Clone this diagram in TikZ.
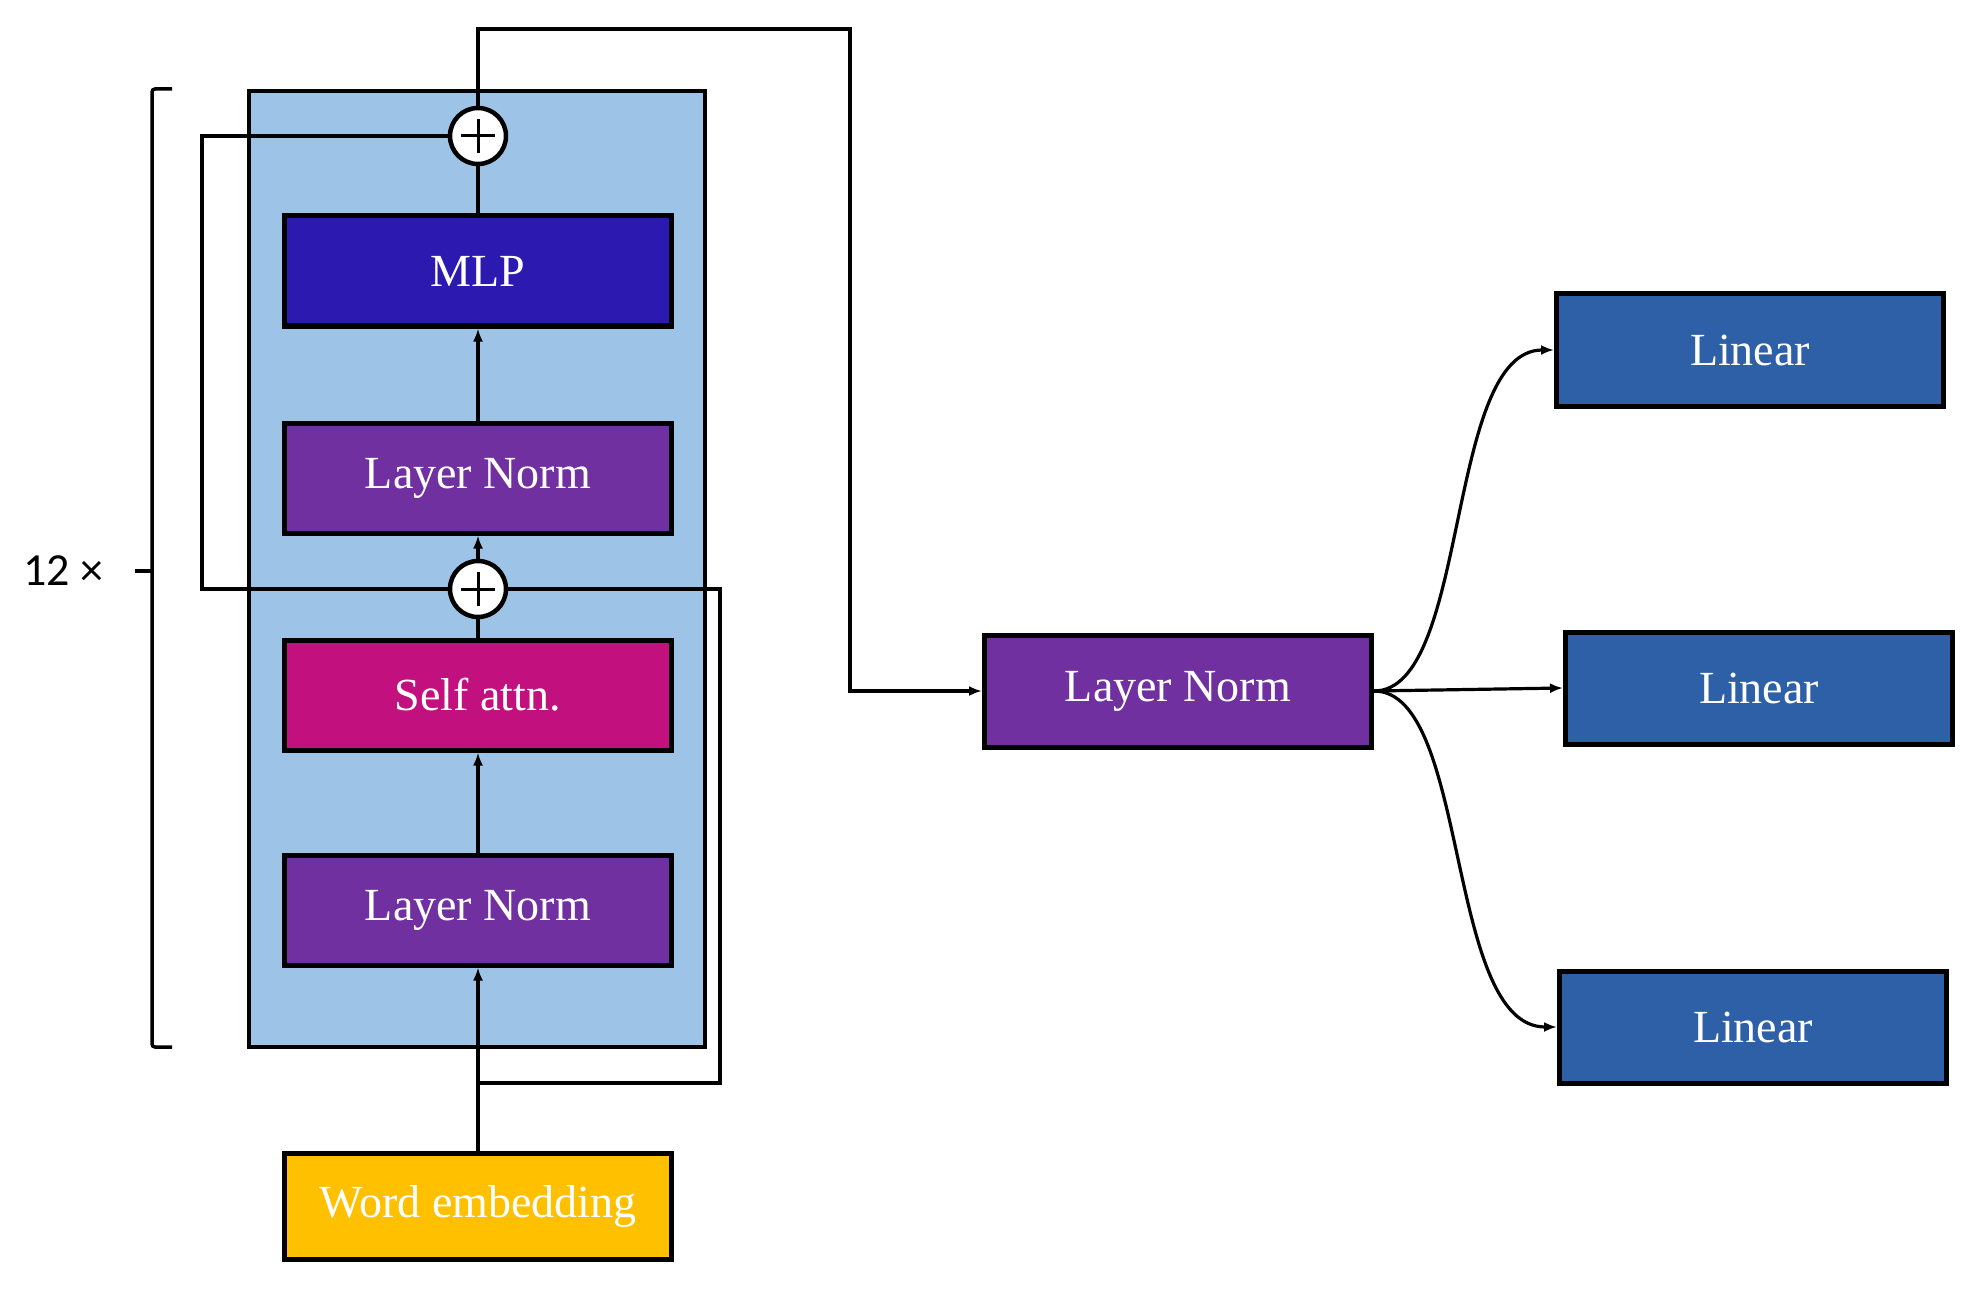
\documentclass[tikz,border=0pt]{standalone}
\usepackage{fontspec}
\setmainfont{Liberation Serif}
\newfontfamily\sansf{Carlito}
\usetikzlibrary{arrows.meta}
\definecolor{blockblue}{HTML}{9DC3E6}
\definecolor{mlpcol}{HTML}{2C19B0}
\definecolor{lncol}{HTML}{7030A0}
\definecolor{sacol}{HTML}{C2117F}
\definecolor{wecol}{HTML}{FFC000}
\definecolor{lincol}{HTML}{2E60A8}
\tikzset{
  box/.style={draw=black, line width=5pt, minimum width=387pt, minimum height=110pt,
    text=white, font=\fontsize{46}{50}\selectfont, inner sep=0pt},
  conn/.style={line width=3.2pt, draw=black},
  arr/.style={conn, -{Latex[length=13pt,width=10pt]}},
  plusnode/.style={circle, draw=black, fill=white, line width=4.5pt, minimum size=56pt, inner sep=0pt},
}
\begin{document}
\begin{tikzpicture}[x=1pt,y=-1pt]
\useasboundingbox (0,0) rectangle (1981,1289);
% container
\node[draw=black, fill=blockblue, line width=4pt, minimum width=456pt, minimum height=955pt, inner sep=0pt] (blk) at (477,569) {};
% bracket
\draw[line width=3.5pt, rounded corners=3pt] (172,89) -- (152,89) -- (152,1047) -- (172,1047);
\draw[line width=3.5pt] (152,571) -- (135,571);
\node[font=\sansf\fontsize{46}{50}\selectfont, anchor=center] (rep) at (63,571) {12 ×};
% boxes
\node[box, fill=mlpcol] (mlp) at (478,271) {MLP};
\node[box, fill=lncol] (ln2) at (478,478) {Layer Norm};
\node[box, fill=sacol] (sa) at (478,695) {Self attn.};
\node[box, fill=lncol] (ln1) at (478,910) {Layer Norm};
\node[box, fill=wecol, minimum height=106pt] (we) at (478,1206) {Word embedding};
\node[box, fill=lncol, minimum height=112pt] (ln3) at (1178,691) {Layer Norm};
\node[box, fill=lincol, minimum height=112pt] (lin1) at (1750,350) {Linear};
\node[box, fill=lincol, minimum height=112pt] (lin2) at (1759,688) {Linear};
\node[box, fill=lincol, minimum height=112pt] (lin3) at (1753,1027) {Linear};
% plus nodes
\node[plusnode] (p2) at (478,136) {};
\node[plusnode] (p1) at (478,589) {};
\foreach \p in {p1,p2}{
  \draw[line width=3pt] ([xshift=-17pt]\p.center) -- ([xshift=17pt]\p.center);
  \draw[line width=3pt] ([yshift=-17pt]\p.center) -- ([yshift=17pt]\p.center);
}
% coordinates
\coordinate (tr) at (850,29);
\coordinate (sl) at (202,136);
\coordinate (sr) at (720,1083);
\coordinate (sj) at (478,1083);
% vertical flow
\draw[arr] (we.north) -- (ln1.south);
\draw[arr] (ln1.north) -- (sa.south);
\draw[conn] (sa.north) -- (p1.south);
\draw[arr] (p1.north) -- (ln2.south);
\draw[arr] (ln2.north) -- (mlp.south);
\draw[conn] (mlp.north) -- (p2.south);
% skips
\draw[conn] (p1.east) -| (sr) -- (sj);
\draw[conn] (p2.west) -- (sl) |- (p1.west);
% to head
\draw[arr] (p2.north) |- (tr) |- (ln3.west);
% heads
\draw[arr] (ln3.east) .. controls (1470,691) and (1445,350) .. (lin1.west);
\draw[arr] (ln3.east) -- (lin2.west);
\draw[arr] (ln3.east) .. controls (1470,691) and (1445,1027) .. (lin3.west);
\end{tikzpicture}
\end{document}
